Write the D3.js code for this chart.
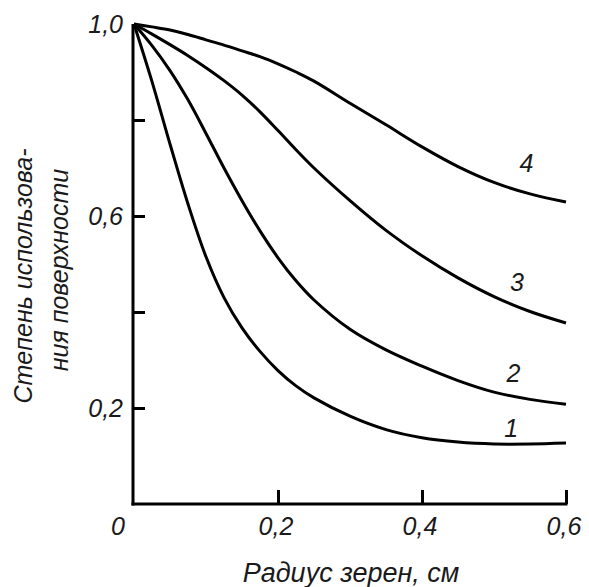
<!DOCTYPE html>
<html>
<head>
<meta charset="utf-8">
<script src="https://cdn.jsdelivr.net/npm/d3@7"></script>
<style>
  html, body { margin: 0; padding: 0; background: #fff; }
  svg { display: block; }
  text { font-family: "Liberation Sans", Arial, sans-serif; font-style: italic; fill: #1a1a1a; }
</style>
</head>
<body>
<svg id="chart" width="589" height="587"></svg>
<script>
// ---- data ----
const radius = [0, 0.025, 0.05, 0.075, 0.1, 0.125, 0.15, 0.175, 0.2, 0.225, 0.25, 0.3, 0.35, 0.4, 0.45, 0.5, 0.55, 0.6];
const curve1 = [1.0, 0.88, 0.75, 0.625, 0.515, 0.43, 0.367, 0.318, 0.278, 0.246, 0.221, 0.183, 0.155, 0.138, 0.129, 0.125, 0.125, 0.127];
const curve2 = [1.0, 0.955, 0.903, 0.842, 0.772, 0.700, 0.632, 0.569, 0.513, 0.465, 0.425, 0.364, 0.321, 0.287, 0.257, 0.233, 0.218, 0.208];
const curve3 = [1.0, 0.979, 0.957, 0.934, 0.909, 0.882, 0.852, 0.817, 0.778, 0.738, 0.700, 0.632, 0.570, 0.517, 0.471, 0.432, 0.401, 0.377];
const curve4 = [1.0, 0.994, 0.9875, 0.978, 0.967, 0.956, 0.944, 0.932, 0.917, 0.900, 0.881, 0.835, 0.790, 0.744, 0.703, 0.670, 0.646, 0.629];
const seriesNames = ["1", "2", "3", "4"];
const xTickValues = [0.2, 0.4, 0.6];
const xTickLabels = ["0,2", "0,4", "0,6"];
const yTickValues = [0.2, 0.4, 0.6, 0.8];
const yLabelValues = [0.2, 0.6, 1.0];
const yLabelTexts = ["0,2", "0,6", "1,0"];
const originLabel = "0";
const xTitle = "Радиус зерен, см";
const yTitleLines = ["Степень использова-", "ния поверхности"];
// label anchor points (data coords) for curve numbers
const labelX = [0.524, 0.527, 0.532, 0.545];
const labelY = [0.158, 0.272, 0.462, 0.711];

// ---- drawing ----
const svg = d3.select("#chart");
const x = d3.scaleLinear().domain([0, 0.6]).range([134, 566]);
const y = d3.scaleLinear().domain([0, 1]).range([504, 24]);
const series = [curve1, curve2, curve3, curve4];

const line = d3.line()
  .x(d => x(d[0]))
  .y(d => y(d[1]))
  .curve(d3.curveCatmullRom.alpha(0.5));

svg.append("g").selectAll("path")
  .data(series)
  .join("path")
  .attr("d", s => line(radius.map((r, i) => [r, s[i]])))
  .attr("fill", "none")
  .attr("stroke", "#000")
  .attr("stroke-width", 3)
  .attr("stroke-linejoin", "round");

// axes lines
svg.append("line")
  .attr("x1", x(0) - 1).attr("x2", x(0) - 1)
  .attr("y1", y(1)).attr("y2", y(0) + 1.5)
  .attr("stroke", "#000").attr("stroke-width", 3);
svg.append("line")
  .attr("x1", x(0) - 2.5).attr("x2", x(0.6) + 1.5)
  .attr("y1", y(0)).attr("y2", y(0))
  .attr("stroke", "#000").attr("stroke-width", 3);

// y ticks (pointing inward)
const yAxis = d3.axisLeft(y).tickValues(yTickValues).tickSize(-12).tickFormat("");
const gy = svg.append("g").attr("transform", `translate(${x(0) - 1},0)`).call(yAxis);
gy.select(".domain").remove();
gy.selectAll(".tick line").attr("stroke", "#000").attr("stroke-width", 3);

// x ticks (pointing inward)
const xAxis = d3.axisBottom(x).tickValues(xTickValues).tickSize(-14).tickFormat("");
const gx = svg.append("g").attr("transform", `translate(0,${y(0)})`).call(xAxis);
gx.select(".domain").remove();
gx.selectAll(".tick line").attr("stroke", "#000").attr("stroke-width", 3);

// tick labels
svg.append("g").selectAll("text")
  .data(yLabelValues)
  .join("text")
  .attr("x", 123)
  .attr("y", d => y(d) + 9)
  .attr("text-anchor", "end")
  .attr("font-size", 25)
  .text((d, i) => yLabelTexts[i]);

svg.append("g").selectAll("text")
  .data(xTickValues)
  .join("text")
  .attr("x", d => x(d) - 2)
  .attr("y", 535)
  .attr("text-anchor", "middle")
  .attr("font-size", 25)
  .text((d, i) => xTickLabels[i]);

svg.append("text")
  .attr("x", 118).attr("y", 535)
  .attr("text-anchor", "middle")
  .attr("font-size", 25)
  .text(originLabel);

// curve number labels
svg.append("g").selectAll("text")
  .data(seriesNames)
  .join("text")
  .attr("x", (d, i) => x(labelX[i]))
  .attr("y", (d, i) => y(labelY[i]) + 9)
  .attr("text-anchor", "middle")
  .attr("font-size", 25)
  .text(d => d);

// axis titles
svg.append("text")
  .attr("x", 351).attr("y", 582)
  .attr("text-anchor", "middle")
  .attr("font-size", 27)
  .text(xTitle);

svg.append("text")
  .attr("transform", "translate(32,276) rotate(-90)")
  .attr("text-anchor", "middle")
  .attr("font-size", 25)
  .text(yTitleLines[0]);
svg.append("text")
  .attr("transform", "translate(68,270) rotate(-90)")
  .attr("text-anchor", "middle")
  .attr("font-size", 25)
  .text(yTitleLines[1]);
</script>
</body>
</html>
